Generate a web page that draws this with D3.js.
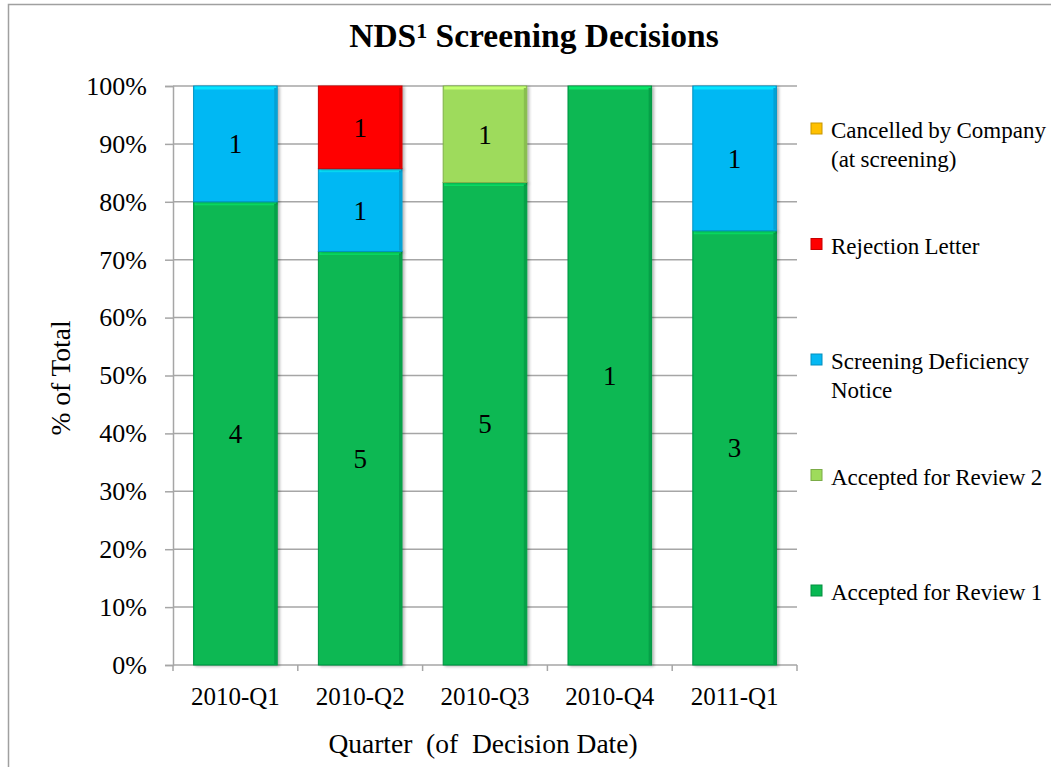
<!DOCTYPE html>
<html>
<head>
<meta charset="utf-8">
<script src="https://cdn.jsdelivr.net/npm/d3@7"></script>
<style>
  body { margin: 0; background: #fff; }
  svg { display: block; font-family: "Liberation Serif", "Times New Roman", serif; }
</style>
</head>
<body>
<div id="chart"></div>
<script>
// categories (quarters)
const quarters = ["2010-Q1", "2010-Q2", "2010-Q3", "2010-Q4", "2011-Q1"];

// counts per series, bottom to top
const accepted1 = [4, 5, 5, 1, 3];
const accepted2 = [0, 0, 1, 0, 0];
const deficiency = [1, 1, 0, 0, 1];
const rejection = [0, 1, 0, 0, 0];
const cancelled = [0, 0, 0, 0, 0];

const seriesNames = ["Accepted for Review 1", "Accepted for Review 2", "Screening Deficiency Notice", "Rejection Letter", "Cancelled by Company (at screening)"];
const legendLines = [["Accepted for Review 1"], ["Accepted for Review 2"], ["Screening Deficiency", "Notice"], ["Rejection Letter"], ["Cancelled by Company", "(at screening)"]];
const seriesColors = ["#07b852", "#9edb5b", "#05b8f3", "#ff0000", "#ffc000"];

const yTicks = [0, 0.1, 0.2, 0.3, 0.4, 0.5, 0.6, 0.7, 0.8, 0.9, 1.0];

const width = 1051, height = 767;
const plot = {left: 173, right: 797, top: 86, bottom: 665};

const rows = quarters.map((q, i) => ({
  q,
  [seriesNames[0]]: accepted1[i],
  [seriesNames[1]]: accepted2[i],
  [seriesNames[2]]: deficiency[i],
  [seriesNames[3]]: rejection[i],
  [seriesNames[4]]: cancelled[i]
}));

const stacked = d3.stack().keys(seriesNames).offset(d3.stackOffsetExpand)(rows);

const svg = d3.select("#chart").append("svg")
  .attr("width", width).attr("height", height);

// outer chart frame
svg.append("rect")
  .attr("x", 8.5).attr("y", 4.5).attr("width", 1100).attr("height", 900)
  .attr("fill", "none").attr("stroke", "#a0a0a0").attr("stroke-width", 1.5);

const defs = svg.append("defs");
const shadow = defs.append("filter").attr("id", "shadow")
  .attr("x", "-10%").attr("y", "-10%").attr("width", "130%").attr("height", "120%");
shadow.append("feGaussianBlur").attr("in", "SourceAlpha").attr("stdDeviation", 1.5);
shadow.append("feOffset").attr("dx", 2).attr("dy", 1).attr("result", "b");
shadow.append("feComponentTransfer").append("feFuncA").attr("type", "linear").attr("slope", 0.3);
const merge = shadow.append("feMerge");
merge.append("feMergeNode");
merge.append("feMergeNode").attr("in", "SourceGraphic");

const x = d3.scaleBand()
  .domain(quarters)
  .range([plot.left, plot.right])
  .paddingInner(0.33)
  .paddingOuter(0.165);

const y = d3.scaleLinear().domain([0, 1]).range([plot.bottom, plot.top]);

// gridlines
svg.append("g")
  .selectAll("line")
  .data(yTicks.filter(t => t > 0))
  .join("line")
  .attr("x1", plot.left).attr("x2", plot.right)
  .attr("y1", d => y(d)).attr("y2", d => y(d))
  .attr("stroke", "#a6a6a6").attr("stroke-width", 1.5);

// y axis
const yAxis = svg.append("g")
  .attr("transform", `translate(${plot.left},0)`)
  .call(d3.axisLeft(y).tickValues(yTicks).tickFormat(d3.format(".0%")).tickSize(8).tickPadding(18));
yAxis.select(".domain").attr("stroke", "#a6a6a6").attr("stroke-width", 1.5);
yAxis.selectAll(".tick line").attr("stroke", "#a6a6a6").attr("stroke-width", 1.5);
yAxis.selectAll(".tick text").attr("font-size", 26).attr("font-family", "Liberation Serif, serif").attr("fill", "#000");

// x axis with ticks between categories
const xAxis = svg.append("g")
  .attr("transform", `translate(0,${plot.bottom})`)
  .call(d3.axisBottom(x).tickSize(0).tickPadding(22));
xAxis.select(".domain").remove();
xAxis.selectAll(".tick text").attr("font-size", 25).attr("font-family", "Liberation Serif, serif").attr("fill", "#000");
svg.append("line")
  .attr("x1", plot.left).attr("x2", plot.right)
  .attr("y1", plot.bottom).attr("y2", plot.bottom)
  .attr("stroke", "#a6a6a6").attr("stroke-width", 1.5);
const step = x.step();
svg.append("g").selectAll("line")
  .data(d3.range(quarters.length + 1))
  .join("line")
  .attr("x1", i => plot.left + i * step).attr("x2", i => plot.left + i * step)
  .attr("y1", plot.bottom).attr("y2", plot.bottom + 6)
  .attr("stroke", "#a6a6a6").attr("stroke-width", 1.5);

// bars
const layer = svg.append("g").selectAll("g")
  .data(stacked)
  .join("g");

layer.each(function(s, si) {
  const g = d3.select(this);
  const col = d3.color(seriesColors[si]);
  const segs = s.map((d, i) => ({d, q: quarters[i]})).filter(o => o.d[1] - o.d[0] > 0);
  const bar = g.selectAll("g.seg").data(segs).join("g").attr("class", "seg");
  bar.append("rect")
    .attr("x", o => x(o.q))
    .attr("y", o => y(o.d[1]))
    .attr("width", x.bandwidth())
    .attr("height", o => y(o.d[0]) - y(o.d[1]))
    .attr("fill", col.formatHex())
    .attr("stroke", col.darker(0.6).formatHex())
    .attr("stroke-width", 1)
    .attr("filter", "url(#shadow)");
  // bevel highlights
  bar.append("rect")
    .attr("x", o => x(o.q) + 1)
    .attr("y", o => y(o.d[1]) + 0.5)
    .attr("width", x.bandwidth() - 2)
    .attr("height", 3)
    .attr("fill", col.brighter(0.6).formatHex());
  bar.append("rect")
    .attr("x", o => x(o.q) + x.bandwidth() - 3)
    .attr("y", o => y(o.d[1]) + 2)
    .attr("width", 2.5)
    .attr("height", o => Math.max(0, y(o.d[0]) - y(o.d[1]) - 3))
    .attr("fill", col.darker(0.4).formatHex());
});

// data labels
svg.append("g").selectAll("g")
  .data(stacked)
  .join("g")
  .each(function(s, si) {
    const vals = [accepted1, accepted2, deficiency, rejection, cancelled][si];
    d3.select(this).selectAll("text")
      .data(s.map((d, i) => ({d, q: quarters[i], v: vals[i]})).filter(o => o.v > 0))
      .join("text")
      .attr("x", o => x(o.q) + x.bandwidth() / 2)
      .attr("y", o => (y(o.d[0]) + y(o.d[1])) / 2)
      .attr("dy", "0.35em")
      .attr("text-anchor", "middle")
      .attr("font-size", 27)
      .text(o => o.v);
  });

// title
const title = svg.append("text")
  .attr("x", 534).attr("y", 47)
  .attr("text-anchor", "middle")
  .attr("font-size", 33.5).attr("font-weight", "bold");
title.append("tspan").text("NDS");
title.append("tspan").attr("font-size", 22).attr("dy", -9).text("1");
title.append("tspan").attr("dy", 9).text(" Screening Decisions");

// axis titles
svg.append("text")
  .attr("transform", "translate(70,378) rotate(-90)")
  .attr("text-anchor", "middle")
  .attr("font-size", 27.5)
  .text("% of Total");
svg.append("text")
  .attr("x", 483).attr("y", 753)
  .attr("text-anchor", "middle")
  .attr("font-size", 27.5)
  .attr("xml:space", "preserve")
  .style("white-space", "pre")
  .text("Quarter  (of  Decision Date)");

// legend, top to bottom reverses stack order
const legendY = d3.scalePoint().domain(d3.range(5)).range([591, 129]);
const leg = svg.append("g").selectAll("g")
  .data(d3.range(5))
  .join("g")
  .attr("transform", i => `translate(811,${legendY(i)})`);
leg.append("rect")
  .attr("x", 0).attr("y", -6).attr("width", 11).attr("height", 11)
  .attr("fill", i => seriesColors[i])
  .attr("stroke", i => d3.color(seriesColors[i]).darker(0.7).formatHex())
  .attr("stroke-width", 1);
leg.append("text")
  .attr("x", 20).attr("y", 9)
  .attr("font-size", 23)
  .attr("word-spacing", -0.5)
  .selectAll("tspan")
  .data(i => legendLines[i])
  .join("tspan")
  .attr("x", 20)
  .attr("dy", (d, j) => j === 0 ? 0 : 29)
  .text(d => d);
</script>
</body>
</html>
